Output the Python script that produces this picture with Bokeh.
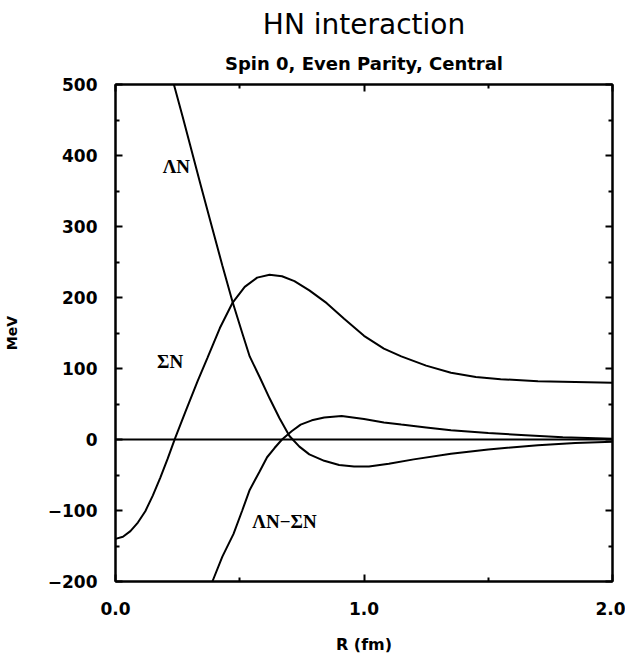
from bokeh.plotting import figure
from bokeh.models import Range1d, LinearAxis, Title, FixedTicker, ColumnDataSource, Span
from bokeh.embed import file_html
from bokeh.resources import INLINE

# ---- data ----
x_sn = [0.0, 0.03, 0.06, 0.09, 0.12, 0.15, 0.18, 0.21, 0.24, 0.28, 0.33, 0.37, 0.42, 0.47, 0.52,
        0.57, 0.62, 0.67, 0.72, 0.78, 0.85, 0.92, 1.0, 1.08, 1.15, 1.25, 1.35, 1.45, 1.55, 1.7, 1.85, 2.0]
y_sn = [-140, -137, -129, -117, -101, -79, -54, -27, 2, 38, 82, 115, 157, 192, 215,
        228, 232, 230, 223, 210, 192, 170, 146, 128, 117, 104, 94, 88, 85, 82, 81, 80]

x_ln = [0.235, 0.27, 0.30, 0.34, 0.38, 0.43, 0.47, 0.51, 0.54, 0.58, 0.62, 0.66, 0.70, 0.74,
        0.78, 0.84, 0.90, 0.96, 1.02, 1.1, 1.2, 1.35, 1.5, 1.7, 1.85, 2.0]
y_ln = [500, 455, 415, 362, 310, 245, 195, 150, 117, 88, 58, 30, 5, -10,
        -21, -30, -36, -38, -38, -34, -28, -20, -14, -8, -5, -3]

x_d = [0.39, 0.43, 0.475, 0.51, 0.54, 0.58, 0.61, 0.64, 0.67, 0.71, 0.745, 0.79, 0.84, 0.91,
       1.0, 1.08, 1.15, 1.25, 1.35, 1.5, 1.65, 1.8, 2.0]
y_d = [-200, -165, -133, -100, -71, -45, -25, -12, 0, 12, 21, 27, 31, 33,
       29, 24, 21, 17, 13, 9, 6, 3, 1]

x_ticks = [0.0, 1.0, 2.0]
x_minor = [0.5, 1.5]
y_ticks = [-200, -100, 0, 100, 200, 300, 400, 500]
y_minor = [-150, -50, 50, 150, 250, 350, 450]

labels = ["\u039bN", "\u03a3N", "\u039bN\u2212\u03a3N"]
label_x = [0.245, 0.22, 0.68]
label_y = [385, 110, -116]

TICK_FONT = "DejaVu Sans"

p = figure(width=625, height=659, output_backend="svg", toolbar_location=None,
           x_range=Range1d(0, 2), y_range=Range1d(-200, 500),
           min_border_left=115, min_border_right=13, min_border_top=84, min_border_bottom=78)
p.title = None
p.grid.visible = False
p.outline_line_color = "black"
p.outline_line_width = 2
p.background_fill_color = "white"
p.border_fill_color = "white"

def style_axis(ax, ticks, minor, show_labels):
    ax.ticker = FixedTicker(ticks=ticks, minor_ticks=minor)
    ax.major_tick_in = 7
    ax.major_tick_out = 0
    ax.minor_tick_in = 4
    ax.minor_tick_out = 0
    ax.major_tick_line_width = 2
    ax.minor_tick_line_width = 2
    ax.axis_line_width = 2
    ax.major_label_text_font = TICK_FONT
    ax.major_label_text_font_style = "bold"
    ax.major_label_text_font_size = "17px"
    ax.major_label_text_color = "black"
    if not show_labels:
        ax.major_label_text_font_size = "0px"
        ax.major_label_text_alpha = 0
        ax.major_label_standoff = 0

xa = p.xaxis[0]
style_axis(xa, x_ticks, x_minor, True)
xa.major_label_overrides = {0: "0.0", 1: "1.0", 2: "2.0"}
xa.major_label_standoff = 20
xa.axis_label = "R (fm)"
xa.axis_label_text_font = TICK_FONT
xa.axis_label_text_font_style = "bold"
xa.axis_label_text_font_size = "16px"
xa.axis_label_text_color = "black"
xa.axis_label_standoff = 17

ya = p.yaxis[0]
style_axis(ya, y_ticks, y_minor, True)
ya.major_label_standoff = 18
ya.axis_label = "MeV"
ya.axis_label_text_font = TICK_FONT
ya.axis_label_text_font_style = "bold"
ya.axis_label_text_font_size = "14px"
ya.axis_label_text_color = "black"
ya.axis_label_standoff = 25

top = LinearAxis()
style_axis(top, x_ticks, x_minor, False)
p.add_layout(top, "above")
right = LinearAxis()
style_axis(right, y_ticks, y_minor, False)
p.add_layout(right, "right")

p.add_layout(Title(text="Spin 0, Even Parity, Central", text_font=TICK_FONT, text_font_style="bold",
                   text_font_size="18px", text_color="black", align="center", standoff=21), "above")
p.add_layout(Title(text="HN interaction", text_font=TICK_FONT, text_font_style="normal",
                   text_font_size="28px", text_color="black", align="center", standoff=0), "above")

p.add_layout(Span(location=0, dimension="width", line_color="black", line_width=2))

for xs, ys in [(x_sn, y_sn), (x_ln, y_ln), (x_d, y_d)]:
    p.line(xs, ys, line_color="black", line_width=2)

src = ColumnDataSource(dict(x=label_x, y=label_y, t=labels))
p.text(x="x", y="y", text="t", source=src, text_align="center", text_baseline="middle",
       text_font={"value": "Liberation Serif"}, text_font_style="bold", text_font_size="19px",
       text_color="black")

open("out.html", "w").write(file_html(p, INLINE))
